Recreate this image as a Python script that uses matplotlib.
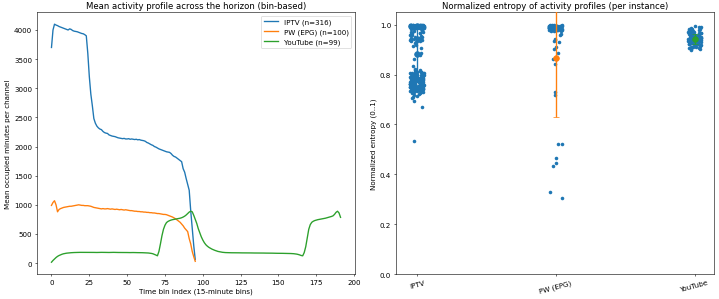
import numpy as np
import pandas as pd
import matplotlib
matplotlib.use("Agg")
import matplotlib.pyplot as plt
import seaborn as sns

# mean occupied minutes per channel, one value per 15-minute bin
iptv_profile = [
    3700, 4000, 4100, 4085, 4075, 4060, 4050, 4040, 4030, 4020,
    4010, 4000, 4020, 4010, 3990, 3980, 3975, 3970, 3960, 3950,
    3940, 3935, 3920, 3900, 3600, 3200, 2900, 2700, 2480, 2400,
    2350, 2320, 2300, 2290, 2260, 2240, 2230, 2225, 2200, 2190,
    2180, 2175, 2170, 2160, 2150, 2145, 2140, 2135, 2140, 2130,
    2130, 2135, 2125, 2130, 2125, 2120, 2125, 2115, 2120, 2110,
    2105, 2100, 2090, 2070, 2060, 2045, 2030, 2020, 2000, 1990,
    1975, 1960, 1950, 1940, 1930, 1920, 1910, 1905, 1900, 1880,
    1850, 1830, 1820, 1800, 1780, 1760, 1740, 1620, 1560, 1450,
    1350, 1250, 900, 600, 300, 60,
]
pw_profile = [
    990, 1040, 1070, 1000, 880, 920, 935, 945, 955, 960,
    965, 970, 975, 975, 980, 985, 990, 995, 1000, 995,
    990, 990, 985, 985, 985, 980, 975, 965, 955, 950,
    945, 940, 935, 930, 935, 930, 930, 935, 930, 925,
    930, 925, 920, 925, 920, 915, 920, 915, 910, 915,
    910, 905, 900, 900, 895, 890, 890, 885, 885, 880,
    880, 875, 875, 870, 870, 865, 865, 860, 860, 855,
    850, 850, 845, 840, 835, 835, 830, 820, 810, 800,
    790, 775, 760, 740, 720, 700, 670, 640, 600, 570,
    540, 420, 330, 200, 110, 30,
]
youtube_profile = [
    15, 45, 70, 95, 115, 130, 142, 152, 160, 165,
    170, 173, 176, 178, 180, 181, 182, 183, 183, 184,
    184, 185, 185, 184, 184, 185, 184, 183, 183, 182,
    182, 183, 183, 184, 184, 183, 183, 182, 182, 183,
    184, 184, 183, 183, 182, 182, 181, 182, 182, 181,
    181, 180, 180, 181, 181, 180, 180, 179, 179, 178,
    178, 177, 176, 175, 173, 170, 166, 160, 150, 138,
    125, 200, 330, 470, 580, 650, 695, 715, 728, 738,
    745, 750, 755, 760, 765, 770, 778, 790, 805, 825,
    850, 875, 890, 880, 820, 750, 680, 590, 520, 450,
    395, 350, 315, 290, 270, 255, 240, 228, 218, 208,
    200, 195, 190, 185, 182, 180, 179, 178, 178, 177,
    177, 177, 176, 176, 176, 175, 175, 175, 175, 174,
    174, 174, 174, 173, 173, 173, 173, 172, 172, 172,
    172, 171, 171, 171, 170, 170, 170, 169, 169, 168,
    168, 168, 167, 167, 166, 166, 165, 165, 164, 163,
    161, 158, 154, 148, 140, 130, 125, 180, 280, 430,
    580, 660, 700, 718, 730, 738, 745, 750, 755, 760,
    765, 770, 778, 785, 792, 800, 810, 835, 870, 890,
    860, 785,
]
series_labels = ["IPTV (n=316)", "PW (EPG) (n=100)", "YouTube (n=99)"]

# normalized entropy per instance
categories = ["IPTV", "PW (EPG)", "YouTube"]
iptv_entropy = [
    0.998, 0.995, 0.991, 0.997, 0.993, 0.989, 0.996, 0.992, 0.988, 0.994,
    0.990, 0.997, 0.986, 0.993, 0.999, 0.991, 0.995, 0.987, 0.992, 0.996,
    0.989, 0.994, 0.998, 0.990, 0.985, 0.993, 0.997, 0.991, 0.988, 0.995,
    0.992, 0.996, 0.990, 0.994, 0.987, 0.998, 0.993, 0.989, 0.995, 0.991,
    0.997, 0.986, 0.992, 0.994, 0.990, 0.996, 0.988, 0.993, 0.999, 0.991,
    0.995, 0.989, 0.993, 0.997, 0.985, 0.992, 0.996, 0.990, 0.994, 0.988,
    0.998, 0.991, 0.995, 0.987, 0.993, 0.997, 0.989, 0.994, 0.992, 0.996,
    0.990, 0.995, 0.988, 0.998, 0.993, 0.991, 0.986, 0.996, 0.994, 0.992,
    0.989, 0.997, 0.993, 0.995, 0.990, 0.984, 0.992, 0.998, 0.996, 0.991,
    0.994, 0.988, 0.997, 0.993, 0.990, 0.995, 0.992, 0.987, 0.996, 0.999,
    0.991, 0.994, 0.989, 0.997, 0.993, 0.996, 0.990, 0.985, 0.995, 0.992,
    0.998, 0.993, 0.991, 0.996, 0.988, 0.994, 0.990, 0.997, 0.992, 0.995,
    0.993, 0.990, 0.996,
    0.980, 0.975, 0.972, 0.968, 0.965, 0.962, 0.978, 0.970, 0.960, 0.955,
    0.950, 0.948, 0.945, 0.942, 0.940, 0.938, 0.935, 0.952, 0.946, 0.943,
    0.939, 0.936, 0.933, 0.930, 0.944, 0.941, 0.958, 0.966, 0.947, 0.937,
    0.925, 0.920, 0.915,
    0.905, 0.887, 0.880, 0.862, 0.835,
    0.822, 0.818, 0.815, 0.812, 0.810, 0.808, 0.805, 0.803, 0.801, 0.799,
    0.797, 0.795, 0.793, 0.791, 0.789, 0.787, 0.785, 0.783, 0.781, 0.779,
    0.777, 0.775, 0.773, 0.771, 0.769, 0.767, 0.765, 0.763, 0.761, 0.759,
    0.757, 0.755, 0.753, 0.751, 0.749, 0.747, 0.745, 0.743, 0.741, 0.739,
    0.737, 0.735, 0.733, 0.731, 0.729, 0.727, 0.725, 0.722, 0.719, 0.716,
    0.812, 0.796, 0.784, 0.771, 0.760, 0.748, 0.739, 0.745, 0.756, 0.768,
    0.779, 0.790, 0.802, 0.774, 0.763, 0.752, 0.741, 0.736, 0.744, 0.758,
    0.766, 0.783, 0.794, 0.806, 0.817, 0.788, 0.776, 0.762, 0.750, 0.742,
    0.734, 0.747, 0.759, 0.772, 0.786, 0.798, 0.809, 0.780, 0.768, 0.754,
    0.743, 0.738, 0.749, 0.761, 0.775, 0.792, 0.804, 0.815, 0.789, 0.773,
    0.764, 0.751, 0.740, 0.732, 0.746, 0.757, 0.770, 0.782, 0.797, 0.807,
    0.778, 0.765, 0.753, 0.744, 0.737, 0.742, 0.755, 0.767, 0.781, 0.793,
    0.803, 0.786, 0.774, 0.762, 0.749, 0.740, 0.733, 0.746, 0.758, 0.769,
    0.784, 0.799, 0.811, 0.791, 0.776, 0.763, 0.752, 0.741, 0.738, 0.750,
    0.761, 0.773, 0.787, 0.800, 0.744, 0.756, 0.769, 0.780, 0.795, 0.745,
    0.712, 0.705, 0.695, 0.672, 0.535,
]
pw_entropy = [
    0.998, 0.995, 0.991, 0.987, 0.983, 0.979, 0.976, 0.994, 0.989, 0.985,
    0.981, 0.977, 0.996, 0.992, 0.988, 0.984, 0.980, 0.997, 0.993, 0.986,
    0.982, 0.978, 0.990, 0.995, 0.988, 0.984, 0.991, 0.979, 0.986, 0.993,
    0.997, 0.983, 0.989, 0.980, 0.994, 0.987, 0.976, 0.992, 0.985, 0.981,
    0.996, 0.990, 0.984, 0.978, 0.988, 0.993, 0.982, 0.986, 0.995, 0.979,
    0.991, 0.987, 0.983, 0.997, 0.989, 0.985, 0.980, 0.994, 0.988, 0.992,
    0.977, 0.984, 0.990, 0.986, 0.993, 0.981, 0.996, 0.987, 0.983, 0.989,
    0.975, 0.991, 0.985, 0.994, 0.982, 0.988, 0.979, 0.992, 0.986, 0.990,
    0.963, 0.960, 0.944, 0.940, 0.936, 0.930, 0.909, 0.903, 0.887, 0.864,
    0.844, 0.729, 0.720, 0.523, 0.523, 0.467, 0.444, 0.432, 0.331, 0.304,
]
youtube_entropy = [
    0.995, 0.990, 0.986, 0.982, 0.978, 0.975, 0.972, 0.969, 0.966, 0.963,
    0.960, 0.957, 0.954, 0.951, 0.948, 0.945, 0.942, 0.939, 0.936, 0.933,
    0.930, 0.927, 0.924, 0.921, 0.918, 0.915, 0.912, 0.909, 0.905, 0.901,
    0.992, 0.984, 0.977, 0.971, 0.965, 0.959, 0.953, 0.947, 0.941, 0.935,
    0.929, 0.923, 0.917, 0.911, 0.904, 0.898, 0.988, 0.980, 0.973, 0.967,
    0.961, 0.955, 0.949, 0.943, 0.937, 0.931, 0.925, 0.919, 0.913, 0.907,
    0.970, 0.964, 0.958, 0.952, 0.946, 0.940, 0.934, 0.928, 0.922, 0.916,
    0.962, 0.956, 0.950, 0.944, 0.938, 0.932, 0.926, 0.920, 0.968, 0.974,
    0.948, 0.942, 0.936, 0.930, 0.953, 0.945, 0.939, 0.933, 0.958, 0.927,
    0.981, 0.944, 0.937, 0.951, 0.924, 0.966, 0.940, 0.912, 0.955,
]
# mean marker and error bar as drawn
entropy_mean = [0.883, 0.868, 0.943]
entropy_err = [0.11, 0.237, 0.02]

fig, (ax1, ax2) = plt.subplots(1, 2, figsize=(14, 5.84), dpi=719 / 14)
fig.subplots_adjust(left=0.0515, right=0.993, top=0.956, bottom=0.083,
                    wspace=0.129)

for prof, lab in zip([iptv_profile, pw_profile, youtube_profile], series_labels):
    ax1.plot(np.arange(len(prof)), prof, label=lab, linewidth=1.9)
ax1.set_title("Mean activity profile across the horizon (bin-based)")
ax1.set_xlabel("Time bin index (15-minute bins)")
ax1.set_ylabel("Mean occupied minutes per channel")
ax1.legend(loc="upper right")

df = pd.DataFrame({
    "source": ["IPTV"] * len(iptv_entropy) + ["PW (EPG)"] * len(pw_entropy)
              + ["YouTube"] * len(youtube_entropy),
    "entropy": iptv_entropy + pw_entropy + youtube_entropy,
})
sns.stripplot(data=df, x="source", y="entropy", order=categories, color="C0",
              jitter=0.05, size=5, ax=ax2, zorder=1)
for i, (m, e) in enumerate(zip(entropy_mean, entropy_err)):
    ax2.errorbar(i, m, yerr=e, fmt="o", color=f"C{i}", markersize=8,
                 capsize=4, elinewidth=1.9, zorder=3)
ax2.set_xlim(-0.15, 2.14)
ax2.set_ylim(0, 1.05)
ax2.set_title("Normalized entropy of activity profiles (per instance)")
ax2.set_xlabel("")
ax2.set_ylabel("Normalized entropy (0..1)")
plt.setp(ax2.get_xticklabels(), rotation=15)

fig.savefig("out.png", dpi=719 / 14)
